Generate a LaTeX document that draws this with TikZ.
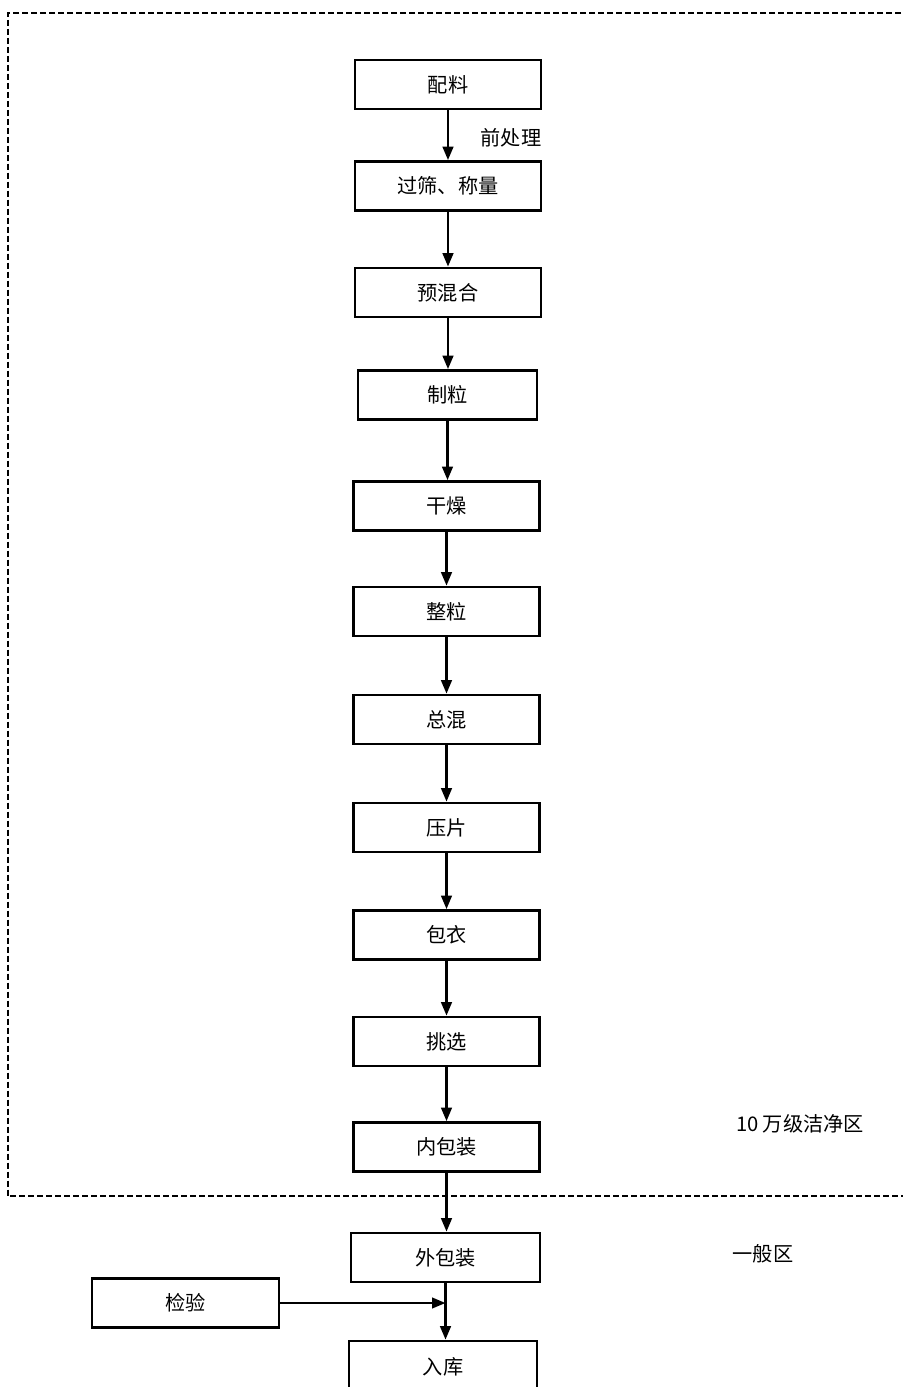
\documentclass[tikz,border=0pt]{standalone}
\usepackage{fontspec}
\setmainfont{Noto Sans CJK SC}
\usetikzlibrary{arrows.meta}

\begin{document}
\begin{tikzpicture}[x=0.02cm,y=-0.02cm,font=\fontsize{11.5}{13}\selectfont,
  proc/.style={draw,line width=1.5pt,minimum width=3.72cm,minimum height=0.98cm,inner sep=0pt},
  flow/.style={-{Triangle[length=0.27cm,width=0.21cm]},line width=1.5pt},
  zone/.style={line width=1.5pt,dash pattern=on 0.12cm off 0.06cm}]
  \useasboundingbox (0,0) rectangle (903,1387);
  % clean zone border
  \draw[zone] (910,13) -- (8,13) -- (8,1196) -- (910,1196);
  \node[proc] (peiliao) at (448,84.5) {配料};
  \node[proc] (guoshai) at (448,186) {过筛、称量};
  \node[proc] (yuhunhe) at (448,292.5) {预混合};
  \node[proc,minimum width=3.58cm] (zhili) at (447.5,395) {制粒};
  \node[proc] (ganzao) at (446.5,506) {干燥};
  \node[proc] (zhengli) at (446.5,611.5) {整粒};
  \node[proc] (zonghun) at (446.5,719.5) {总混};
  \node[proc] (yapian) at (446.5,827.5) {压片};
  \node[proc] (baoyi) at (446.5,935) {包衣};
  \node[proc] (tiaoxuan) at (446.5,1041.5) {挑选};
  \node[proc] (neibao) at (446.5,1147) {内包装};
  \node[proc,minimum width=3.78cm] (waibao) at (445.5,1257.5) {外包装};
  \node[proc,minimum width=3.76cm,minimum height=1.04cm] (ruku) at (443,1367) {入库};
  \node[proc,minimum width=3.74cm] (jianyan) at (185.5,1303) {检验};
  % zone labels
  \node (qianchuli) at (511,138) {前处理};
  \node (jiejing) at (800,1124) {10 万级洁净区};
  \node (yiban) at (763,1254) {一般区};
  % process flow
  \draw[flow] (peiliao.south) -- (guoshai.north);
  \draw[flow] (guoshai.south) -- (yuhunhe.north);
  \draw[flow] (yuhunhe.south) -- (yuhunhe.south |- zhili.north);
  \draw[flow] (zhili.south) -- (zhili.south |- ganzao.north);
  \draw[flow] (ganzao.south) -- (zhengli.north);
  \draw[flow] (zhengli.south) -- (zonghun.north);
  \draw[flow] (zonghun.south) -- (yapian.north);
  \draw[flow] (yapian.south) -- (baoyi.north);
  \draw[flow] (baoyi.south) -- (tiaoxuan.north);
  \draw[flow] (tiaoxuan.south) -- (neibao.north);
  \draw[flow] (neibao.south) -- (neibao.south |- waibao.north);
  \draw[flow] (waibao.south) -- (waibao.south |- ruku.north);
  \draw[flow] (jianyan.east) -- (jianyan.east -| waibao.south);
\end{tikzpicture}
\end{document}
